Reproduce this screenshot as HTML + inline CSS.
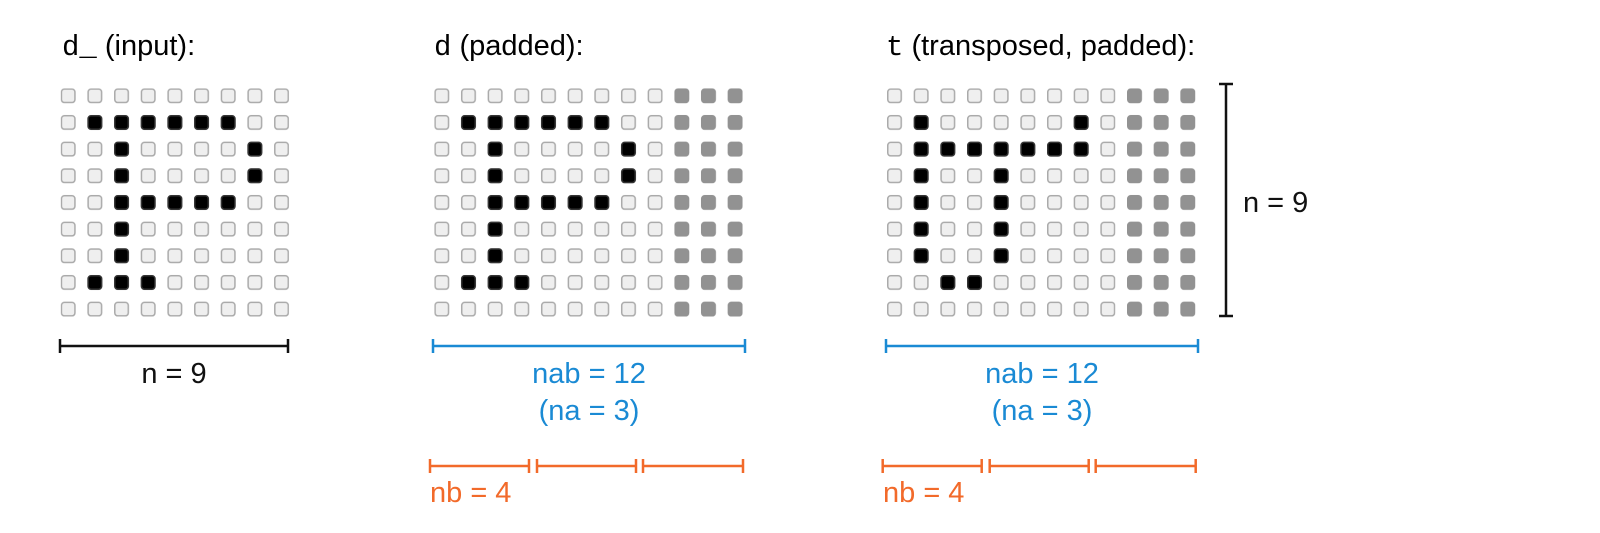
<!DOCTYPE html>
<html><head><meta charset="utf-8"><style>
html,body{margin:0;padding:0;background:#fff;}
svg{display:block;}
text{font-family:"Liberation Sans",sans-serif;}
.m{font-family:"Liberation Mono",monospace;}
</style></head><body>
<svg width="1600" height="533" viewBox="0 0 1600 533" xmlns="http://www.w3.org/2000/svg" xmlns:xlink="http://www.w3.org/1999/xlink">
<defs>
<pattern id="L" patternUnits="userSpaceOnUse" x="0" y="0" width="26.667" height="26.667">
<rect x="0.75" y="0.75" width="13.5" height="13.5" rx="3" fill="#efefef" stroke="#aaa" stroke-width="1.5"/>
</pattern>
<pattern id="G" patternUnits="userSpaceOnUse" x="0" y="0" width="26.667" height="26.667">
<rect x="0.75" y="0.75" width="13.5" height="13.5" rx="3" fill="#929292" stroke="#929292" stroke-width="1.5"/>
</pattern>
<rect id="b" x="0.75" y="0.75" width="13.5" height="13.5" rx="3" fill="#000" stroke="#333" stroke-width="1.5"/>
<g id="dp">
<use xlink:href="#b" x="26.67" y="26.67"/><use xlink:href="#b" x="53.33" y="26.67"/><use xlink:href="#b" x="80" y="26.67"/><use xlink:href="#b" x="106.67" y="26.67"/><use xlink:href="#b" x="133.33" y="26.67"/><use xlink:href="#b" x="160" y="26.67"/>
<use xlink:href="#b" x="53.33" y="53.33"/><use xlink:href="#b" x="186.67" y="53.33"/>
<use xlink:href="#b" x="53.33" y="80"/><use xlink:href="#b" x="186.67" y="80"/>
<use xlink:href="#b" x="53.33" y="106.67"/><use xlink:href="#b" x="80" y="106.67"/><use xlink:href="#b" x="106.67" y="106.67"/><use xlink:href="#b" x="133.33" y="106.67"/><use xlink:href="#b" x="160" y="106.67"/>
<use xlink:href="#b" x="53.33" y="133.33"/>
<use xlink:href="#b" x="53.33" y="160"/>
<use xlink:href="#b" x="26.67" y="186.67"/><use xlink:href="#b" x="53.33" y="186.67"/><use xlink:href="#b" x="80" y="186.67"/>
</g>
<g id="tp">
<use xlink:href="#b" x="26.67" y="26.67"/><use xlink:href="#b" x="186.67" y="26.67"/>
<use xlink:href="#b" x="26.67" y="53.33"/><use xlink:href="#b" x="53.33" y="53.33"/><use xlink:href="#b" x="80" y="53.33"/><use xlink:href="#b" x="106.67" y="53.33"/><use xlink:href="#b" x="133.33" y="53.33"/><use xlink:href="#b" x="160" y="53.33"/><use xlink:href="#b" x="186.67" y="53.33"/>
<use xlink:href="#b" x="26.67" y="80"/><use xlink:href="#b" x="106.67" y="80"/>
<use xlink:href="#b" x="26.67" y="106.67"/><use xlink:href="#b" x="106.67" y="106.67"/>
<use xlink:href="#b" x="26.67" y="133.33"/><use xlink:href="#b" x="106.67" y="133.33"/>
<use xlink:href="#b" x="26.67" y="160"/><use xlink:href="#b" x="106.67" y="160"/>
<use xlink:href="#b" x="53.33" y="186.67"/><use xlink:href="#b" x="80" y="186.67"/>
</g>
</defs>
<g font-size="29">
<text x="62" y="55"><tspan class="m">d_</tspan> (input):</text>
<text x="434" y="55"><tspan class="m">d</tspan> (padded):</text>
<text x="886" y="55"><tspan class="m">t</tspan> (transposed, padded):</text>
</g>
<g transform="translate(60.7,88.3)">
<rect x="0" y="0" width="228.4" height="228.4" fill="url(#L)"/>
<use xlink:href="#dp"/>
</g>
<g transform="translate(434.3,88.3)">
<rect x="0" y="0" width="228.4" height="228.4" fill="url(#L)"/>
<rect x="240" y="0" width="68.4" height="228.4" fill="url(#G)"/>
<use xlink:href="#dp"/>
</g>
<g transform="translate(887,88.3)">
<rect x="0" y="0" width="228.4" height="228.4" fill="url(#L)"/>
<rect x="240" y="0" width="68.4" height="228.4" fill="url(#G)"/>
<use xlink:href="#tp"/>
</g>
<g stroke="#111" stroke-width="2.5">
<line x1="60" y1="346" x2="288" y2="346"/><line x1="60" y1="339" x2="60" y2="353"/><line x1="288" y1="339" x2="288" y2="353"/>
<line x1="1226" y1="84" x2="1226" y2="316"/><line x1="1219" y1="84" x2="1233" y2="84"/><line x1="1219" y1="316" x2="1233" y2="316"/>
</g>
<text x="174" y="383" font-size="29" text-anchor="middle" fill="#111">n = 9</text>
<text x="1243" y="212" font-size="29" fill="#111">n = 9</text>
<g stroke="#1a8ad4" stroke-width="2.5">
<line x1="433" y1="346" x2="745" y2="346"/><line x1="433" y1="339" x2="433" y2="353"/><line x1="745" y1="339" x2="745" y2="353"/>
<line x1="886" y1="346" x2="1198" y2="346"/><line x1="886" y1="339" x2="886" y2="353"/><line x1="1198" y1="339" x2="1198" y2="353"/>
</g>
<g fill="#1a8ad4" font-size="29" text-anchor="middle">
<text x="589" y="383">nab = 12</text><text x="589" y="420">(na = 3)</text>
<text x="1042" y="383">nab = 12</text><text x="1042" y="420">(na = 3)</text>
</g>
<g stroke="#f26a2a" stroke-width="2.5">
<line x1="430" y1="466" x2="529" y2="466"/><line x1="430" y1="459" x2="430" y2="473"/><line x1="529" y1="459" x2="529" y2="473"/>
<line x1="537" y1="466" x2="636" y2="466"/><line x1="537" y1="459" x2="537" y2="473"/><line x1="636" y1="459" x2="636" y2="473"/>
<line x1="643" y1="466" x2="743" y2="466"/><line x1="643" y1="459" x2="643" y2="473"/><line x1="743" y1="459" x2="743" y2="473"/>
<line x1="882.7" y1="466" x2="981.7" y2="466"/><line x1="882.7" y1="459" x2="882.7" y2="473"/><line x1="981.7" y1="459" x2="981.7" y2="473"/>
<line x1="989.7" y1="466" x2="1088.7" y2="466"/><line x1="989.7" y1="459" x2="989.7" y2="473"/><line x1="1088.7" y1="459" x2="1088.7" y2="473"/>
<line x1="1095.7" y1="466" x2="1195.7" y2="466"/><line x1="1095.7" y1="459" x2="1095.7" y2="473"/><line x1="1195.7" y1="459" x2="1195.7" y2="473"/>
</g>
<g fill="#f26a2a" font-size="29">
<text x="430" y="502">nb = 4</text><text x="883" y="502">nb = 4</text>
</g>
</svg>
</body></html>
